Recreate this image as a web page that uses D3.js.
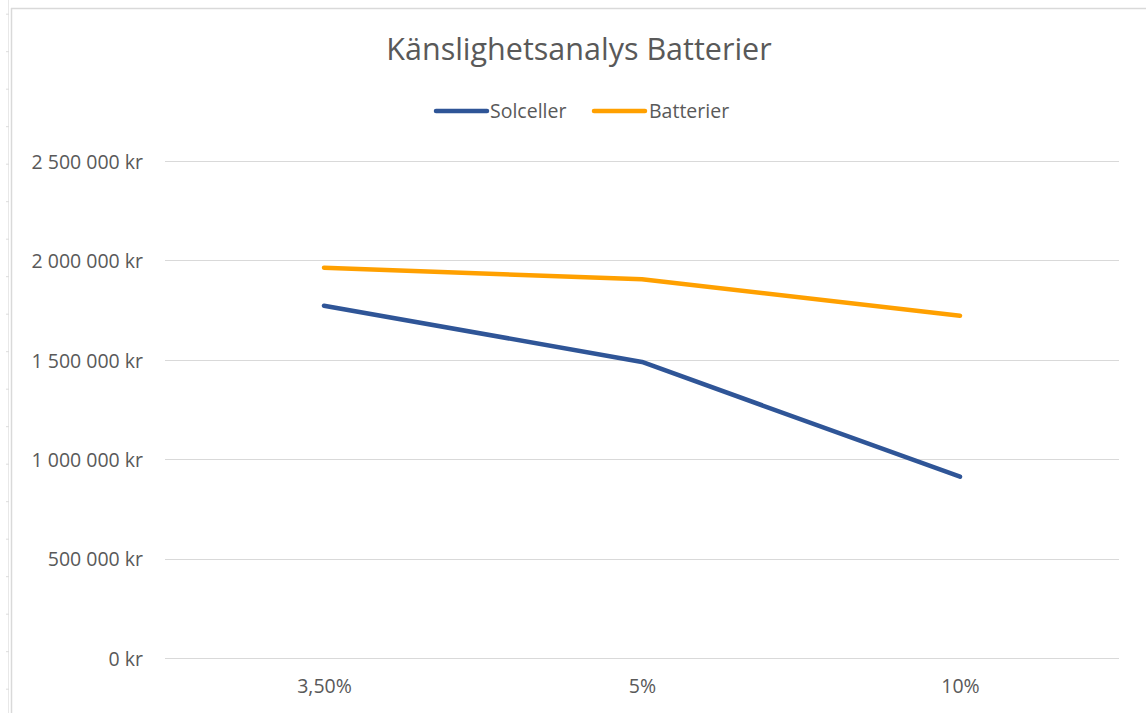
<!DOCTYPE html>
<html>
<head>
<meta charset="utf-8">
<script src="https://cdn.jsdelivr.net/npm/d3@7"></script>
<style>
  html, body { margin: 0; padding: 0; background: #fff; }
  svg { display: block; }
  text { font-family: "Open Sans", Lato, "Noto Sans", sans-serif; fill: #595959; }
</style>
</head>
<body>
<svg id="chart" width="1146" height="713"></svg>
<script>
const title = "Känslighetsanalys Batterier";
const categories = ["3,50%", "5%", "10%"];
const seriesNames = ["Solceller", "Batterier"];
const solceller = [1772000, 1489000, 912000];
const batterier = [1963000, 1905000, 1722000];
const yTicks = [0, 500000, 1000000, 1500000, 2000000, 2500000];
const colors = ["#2f5597", "#ffa000"];

const svg = d3.select("#chart");
const W = 1146, H = 713;
const plot = { left: 165, right: 1119, top: 161, bottom: 658 };
const fs = "19.5px";

// worksheet-like frame
const frame = svg.append("g");
frame.append("line").attr("x1", 8.5).attr("x2", 8.5).attr("y1", 0).attr("y2", H)
  .attr("stroke", "#e8e8e8").attr("stroke-width", 1);
d3.range(14.2, H, 37.5).forEach(y => {
  frame.append("line").attr("x1", 6).attr("x2", 9).attr("y1", y).attr("y2", y)
    .attr("stroke", "#dcdcdc").attr("stroke-width", 1);
});
frame.append("line").attr("x1", 11.5).attr("x2", 11.5).attr("y1", 8).attr("y2", H)
  .attr("stroke", "#d9d9d9").attr("stroke-width", 1.5);
frame.append("line").attr("x1", 11).attr("x2", W).attr("y1", 8.5).attr("y2", 8.5)
  .attr("stroke", "#d9d9d9").attr("stroke-width", 1.5);

const x = d3.scalePoint().domain(categories).range([plot.left, plot.right]).padding(0.5);
const y = d3.scaleLinear().domain([0, 2500000]).range([plot.bottom, plot.top]);

const fmt = v => d3.format(",")(v).replace(/,/g, " ") + " kr";

// gridlines
svg.append("g").selectAll("line").data(yTicks).join("line")
  .attr("x1", plot.left).attr("x2", plot.right)
  .attr("y1", d => Math.round(y(d)) + 0.5).attr("y2", d => Math.round(y(d)) + 0.5)
  .attr("stroke", "#d9d9d9").attr("stroke-width", 1);

// y axis labels
const yAxis = d3.axisLeft(y).tickValues(yTicks).tickFormat(fmt).tickSize(0).tickPadding(0);
const yg = svg.append("g").attr("transform", `translate(143,1)`).call(yAxis);
yg.select(".domain").remove();
yg.selectAll("text").style("font-size", fs).attr("fill", "#595959")
  .style("font-family", '"Open Sans", Lato, sans-serif');

// x axis labels
const xAxis = d3.axisBottom(x).tickSize(0).tickPadding(0);
const xg = svg.append("g").attr("transform", `translate(0,679)`).call(xAxis);
xg.select(".domain").remove();
xg.selectAll("text").style("font-size", fs).attr("fill", "#595959")
  .style("font-family", '"Open Sans", Lato, sans-serif');

// lines
const data = [solceller, batterier];
const line = d3.line().x((d, i) => x(categories[i])).y(d => y(d));
svg.append("g").selectAll("path").data(data).join("path")
  .attr("d", d => line(d))
  .attr("fill", "none")
  .attr("stroke", (d, i) => colors[i])
  .attr("stroke-width", 4.5)
  .attr("stroke-linejoin", "round")
  .attr("stroke-linecap", "round");

// title
svg.append("text").attr("x", 579).attr("y", 60).attr("text-anchor", "middle")
  .style("font-size", "30.5px").text(title);

// legend
const legend = [
  { name: seriesNames[0], color: colors[0], x1: 436, x2: 487, tx: 490 },
  { name: seriesNames[1], color: colors[1], x1: 594, x2: 645, tx: 649 }
];
const lg = svg.append("g");
legend.forEach(l => {
  lg.append("line").attr("x1", l.x1).attr("x2", l.x2).attr("y1", 111).attr("y2", 111)
    .attr("stroke", l.color).attr("stroke-width", 4.5).attr("stroke-linecap", "round");
  lg.append("text").attr("x", l.tx).attr("y", 118).style("font-size", fs).text(l.name);
});
</script>
</body>
</html>
